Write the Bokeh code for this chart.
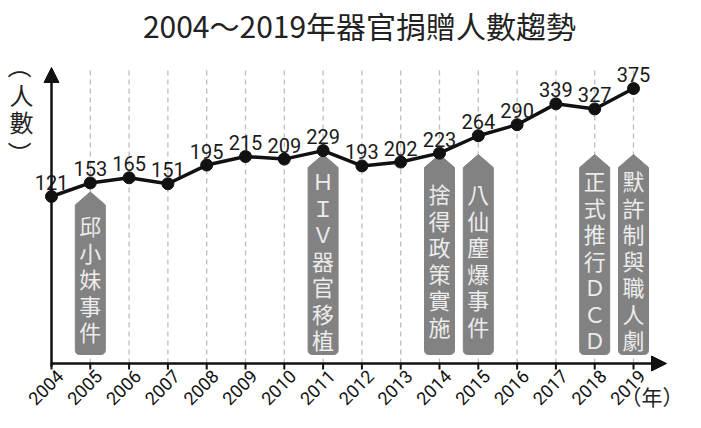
from math import pi, cos, sin
from bokeh.plotting import figure
from bokeh.models import Range1d, Arrow, NormalHead
from bokeh.core.properties import value
from bokeh.embed import file_html
from bokeh.resources import INLINE

# ---------------- data ----------------
years = list(range(2004, 2020))
donors = [121, 153, 165, 151, 195, 215, 209, 229, 193, 202, 223, 264, 290, 339, 327, 375]
tick_labels = [str(y) for y in years]
event_years = [2005, 2011, 2014, 2015, 2018, 2019]
event_texts = ["邱小妹事件", "ＨＩＶ器官移植", "捨得政策實施", "八仙塵爆事件", "正式推行ＤＣＤ", "默許制與職人劇"]
title_text = "2004～2019年器官捐贈人數趨勢"
y_label = "（人數）"
x_label = "（年）"

# ---------------- layout (reference pixel positions) ----------------
W, H = 685, 412
SHIFT_X = -6      # figure pixel = reference pixel + shift
SHIFT_Y = -9
PX_PER_YEAR = 38.8
PX_PER_UNIT = 0.425
X0_REF = 57.0
Y0_REF = 205.0
AXIS_REF = 372.0
GRID_TOP_REF = 78.0
BANNER_TOP = 163.0
BANNER_BOTTOM = 363.0
BANNER_HW = 15.0
BANNER_SHOULDER = 13.0
BANNER_R = 4.0
SANS = "Roboto"
CJK = "Noto Sans CJK TC"

def dx(rx):
    return years[0] + (rx - X0_REF) / PX_PER_YEAR

def dy(ry):
    return donors[0] + (Y0_REF - ry) / PX_PER_UNIT

def ux(px):
    return px / PX_PER_YEAR

def ry_of(v):
    return Y0_REF - (v - donors[0]) * PX_PER_UNIT

p = figure(width=W, height=H,
           x_range=Range1d(dx(0 - SHIFT_X), dx(W - SHIFT_X)),
           y_range=Range1d(dy(H - SHIFT_Y), dy(0 - SHIFT_Y)),
           output_backend="svg", toolbar_location=None,
           x_axis_location=None, y_axis_location=None,
           min_border_left=0, min_border_right=0, min_border_top=0, min_border_bottom=0,
           outline_line_color=None,
           background_fill_color="white", border_fill_color="white")
p.grid.visible = False

axis_y = dy(AXIS_REF)

# dashed vertical guides
p.segment(x0=years[1:], y0=[axis_y] * (len(years) - 1),
          x1=years[1:], y1=[dy(GRID_TOP_REF)] * (len(years) - 1),
          line_color="#bdbdbd", line_width=1.3, line_dash="5 4")

# tick marks and tick labels of the year axis
p.segment(x0=years, y0=[axis_y] * len(years), x1=years, y1=[dy(AXIS_REF + 6)] * len(years),
          line_color="#111111", line_width=2)
p.text(x=[y + ux(4) for y in years], y=[dy(AXIS_REF + 5)] * len(years), text=tick_labels,
       angle=pi / 4, text_align="right", text_baseline="top",
       text_font=value(SANS), text_font_size="18px", text_color="#111111")

# event banners
bxs, bys = [], []
tx, ty, tt = [], [], []
for ey, label in zip(event_years, event_texts):
    v = donors[years.index(ey)]
    pry = ry_of(v)
    tip = pry + 9 if pry > BANNER_TOP + 10 else BANNER_TOP
    hw = ux(BANNER_HW)
    r = BANNER_R
    xs = [ey, ey + hw, ey + hw]
    ys = [dy(tip), dy(tip + BANNER_SHOULDER), dy(BANNER_BOTTOM - r)]
    for k in range(1, 7):
        a = k / 6 * (pi / 2)
        xs.append(ey + ux(BANNER_HW - r + r * cos(a)))
        ys.append(dy(BANNER_BOTTOM - r + r * sin(a)))
    for k in range(0, 7):
        a = pi / 2 + k / 6 * (pi / 2)
        xs.append(ey + ux(-BANNER_HW + r + r * cos(a)))
        ys.append(dy(BANNER_BOTTOM - r + r * sin(a)))
    xs.append(ey - hw)
    ys.append(dy(tip + BANNER_SHOULDER))
    bxs.append(xs)
    bys.append(ys)
    n = len(label)
    center = (tip + BANNER_BOTTOM) / 2 + 5
    step = 26.5
    for i, ch in enumerate(label):
        tx.append(ey)
        ty.append(dy(center + (i - (n - 1) / 2) * step))
        tt.append(ch)

p.patches(bxs, bys, fill_color="#828282", line_color="#828282", line_width=1)
p.text(x=tx, y=ty, text=tt, text_align="center", text_baseline="middle",
       text_font=value(CJK), text_font_size="22px", text_color="#ececec")

# data line
p.line(years, donors, line_color="#111111", line_width=3.5)
p.scatter(years, donors, size=12, fill_color="#111111", line_color="#111111")

# value labels
p.text(x=years, y=[v + 14 / PX_PER_UNIT for v in donors], text=[str(v) for v in donors],
       text_align="center", text_baseline="alphabetic",
       text_font=value(SANS), text_font_size="20px", text_color="#1a1a1a")

# axes arrows
p.add_layout(Arrow(x_start=years[0], y_start=dy(AXIS_REF + 3), x_end=years[0], y_end=dy(76),
                   line_color="#111111", line_width=2.5,
                   end=NormalHead(size=15, fill_color="#111111", line_color="#111111")))
p.add_layout(Arrow(x_start=years[0], y_start=axis_y, x_end=dx(672), y_end=axis_y,
                   line_color="#111111", line_width=2.5,
                   end=NormalHead(size=15, fill_color="#111111", line_color="#111111")))

# y label (vertical)
ych = list(y_label)
ycell = [75, 103, 130, 162]
yang = [-pi / 2 if c in "（）" else 0 for c in ych]
p.text(x=[dx(27)] * len(ych), y=[dy(s) for s in ycell], text=ych, angle=yang,
       text_align="center", text_baseline="middle",
       text_font=value(CJK), text_font_size="24px", text_color="#222222")

# title
p.text(x=[dx(365)], y=[dy(33)], text=[title_text], text_align="center", text_baseline="middle",
       text_font=value(CJK), text_font_size="30px", text_color="#222222")

# x unit label (kept inside the right edge)
p.text(x=[dx(689)], y=[dy(404)], text=[x_label], text_align="right", text_baseline="middle",
       text_font=value(CJK), text_font_size="21px", text_color="#222222")

open("out.html", "w").write(file_html(p, INLINE))
